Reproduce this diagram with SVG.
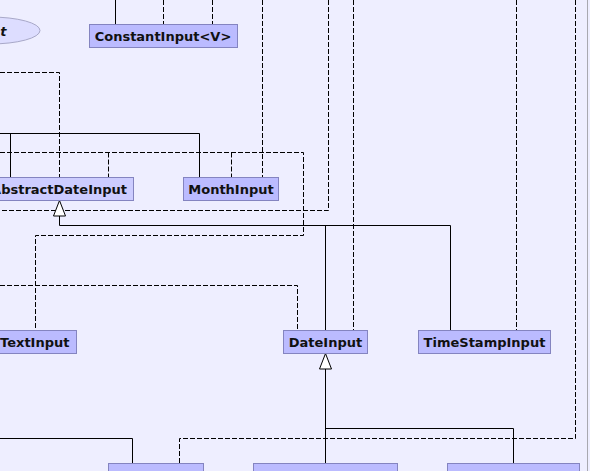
<svg xmlns="http://www.w3.org/2000/svg" width="590" height="471" viewBox="0 0 590 471">
<style>
.bg{fill:#EEEEFF}
.n{fill:#BBBBFF;stroke:#8484C0;stroke-width:1}
.a{fill:#CCCCFF;stroke:#8484C0;stroke-width:1}
.t{font-family:"DejaVu Sans",sans-serif;font-size:13px;font-weight:bold;fill:#111}
.s{fill:none;stroke:#000;stroke-width:1}
.d{fill:none;stroke:#000;stroke-width:1;stroke-dasharray:5,2}
.tri{fill:#fff;stroke:#000;stroke-width:1}
</style>
<rect class="bg" x="0" y="0" width="590" height="471"/>
<line x1="587.5" y1="0" x2="587.5" y2="471" stroke="#A8A8B0" stroke-width="1"/>
<g id="connectors">
<path class="s" d="M115.5,0V24"/>
<path class="d" d="M163.5,0V24"/>
<path class="d" d="M212.5,0V24"/>
<path class="d" d="M262.5,0V177"/>
<path class="d" d="M0,72.5H59.5V177"/>
<path class="s" d="M0,133.5H199.5V177M10.5,133.5V177"/>
<path class="d" d="M0,152.5H303.5V235.5H35.5V330"/>
<path class="d" d="M108.5,152.5V177"/>
<path class="d" d="M231.5,152.5V177"/>
<path class="d" d="M328.5,0V210.5H0"/>
<path class="d" d="M353.5,0V330"/>
<path class="d" d="M516.5,0V330"/>
<path class="d" d="M575.5,0V438.5H179.5V463"/>
<path class="s" d="M59.5,216V225.5H450.5V330M325.5,225.5V330"/>
<path class="d" d="M0,285.5H297.5V330"/>
<path class="s" d="M325.5,369V463M325.5,428.5H513.5V463"/>
<path class="s" d="M0,438.5H132.5V463"/>
<polygon class="tri" points="59.5,200.5 53.5,216 65.5,216"/>
<polygon class="tri" points="325.5,353.5 319.5,369 331.5,369"/>
</g>
<g id="iface">
<ellipse cx="-10" cy="30.5" rx="50" ry="13.5" fill="#DDDDFF" stroke="#A8A8C8"/>
<text class="t" x="6.5" y="36" text-anchor="end" font-style="italic">t</text>
</g>
<g id="ConstantInput">
<rect class="n" x="89.5" y="24.5" width="148" height="23"/>
<text class="t" x="163" y="40.5" text-anchor="middle">ConstantInput&lt;V&gt;</text>
</g>
<g id="AbstractDateInput">
<rect class="a" x="-20" y="177.5" width="153.5" height="23"/>
<text class="t" x="127" y="193.5" text-anchor="end">AbstractDateInput</text>
</g>
<g id="MonthInput">
<rect class="n" x="183.5" y="177.5" width="95" height="23"/>
<text class="t" x="231" y="193.5" text-anchor="middle">MonthInput</text>
</g>
<g id="TextInput">
<rect class="n" x="-10" y="330.5" width="86.5" height="23"/>
<text class="t" x="69.5" y="346.5" text-anchor="end">TextInput</text>
</g>
<g id="DateInput">
<rect class="n" x="283.5" y="330.5" width="84" height="23"/>
<text class="t" x="325.5" y="346.5" text-anchor="middle">DateInput</text>
</g>
<g id="TimeStampInput">
<rect class="n" x="418.5" y="330.5" width="132" height="23"/>
<text class="t" x="484.5" y="346.5" text-anchor="middle">TimeStampInput</text>
</g>
<g id="bottom1">
<rect class="n" x="108.5" y="463.5" width="95" height="30"/>
</g>
<g id="bottom2">
<rect class="n" x="253.5" y="463.5" width="144" height="30"/>
</g>
<g id="bottom3">
<rect class="n" x="447.5" y="463.5" width="132" height="30"/>
</g>
</svg>
